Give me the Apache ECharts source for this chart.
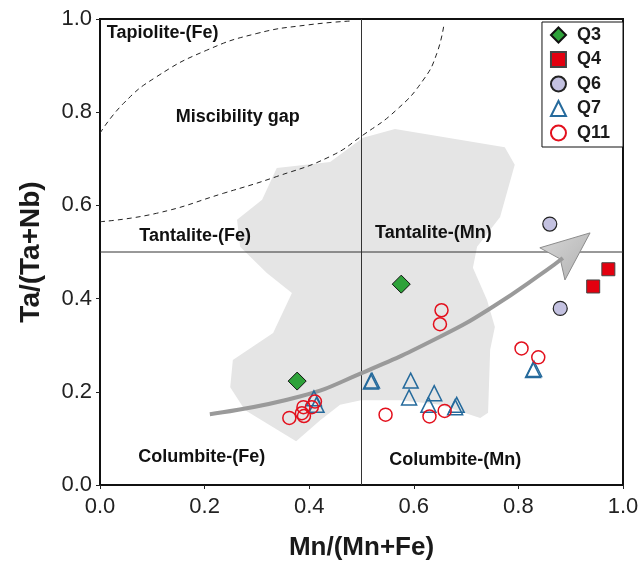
<!DOCTYPE html>
<html>
<head>
<meta charset="utf-8">
<script src="https://cdn.jsdelivr.net/npm/echarts@6/dist/echarts.min.js"></script>
<style>
  html, body { margin: 0; padding: 0; background: #fff; }
  #main { width: 644px; height: 562px; }
</style>
</head>
<body>
<div id="main"></div>
<script>
// sample points, [Mn/(Mn+Fe), Ta/(Ta+Nb)]
var q3 = [[0.377, 0.223], [0.576, 0.431]];
var q4 = [[0.972, 0.463], [0.943, 0.426]];
var q6 = [[0.860, 0.560], [0.880, 0.379]];
var q7 = [
  [0.518, 0.222], [0.520, 0.224], [0.594, 0.224], [0.591, 0.188], [0.639, 0.197],
  [0.628, 0.172], [0.682, 0.172], [0.679, 0.167], [0.409, 0.186], [0.414, 0.172],
  [0.828, 0.247], [0.830, 0.249]
];
var q11 = [
  [0.653, 0.375], [0.650, 0.345], [0.806, 0.293], [0.838, 0.274], [0.546, 0.151],
  [0.630, 0.147], [0.659, 0.159], [0.362, 0.144], [0.386, 0.154], [0.390, 0.148],
  [0.389, 0.167], [0.405, 0.167], [0.411, 0.179]
];

// grey field outline
var field = [
  [0.375, 0.094], [0.421, 0.139], [0.459, 0.172], [0.499, 0.182], [0.574, 0.182],
  [0.650, 0.172], [0.727, 0.144], [0.742, 0.155], [0.746, 0.290], [0.755, 0.339],
  [0.740, 0.397], [0.713, 0.466], [0.721, 0.511], [0.765, 0.575], [0.793, 0.687],
  [0.774, 0.725], [0.564, 0.764], [0.503, 0.745], [0.440, 0.693], [0.338, 0.680],
  [0.310, 0.612], [0.262, 0.569], [0.268, 0.511], [0.319, 0.455], [0.367, 0.412],
  [0.331, 0.326], [0.254, 0.268], [0.249, 0.210], [0.277, 0.161]
];

// miscibility gap (dashed)
var gapLower = [
  [0, 0.565], [0.108, 0.583], [0.236, 0.626], [0.338, 0.662], [0.440, 0.705],
  [0.503, 0.751], [0.567, 0.805], [0.618, 0.869], [0.644, 0.926], [0.658, 0.991]
];
var gapUpper = [
  [0, 0.755], [0.045, 0.819], [0.108, 0.876], [0.204, 0.933], [0.300, 0.969],
  [0.395, 0.987], [0.484, 0.996]
];

// trend arrow
var arrowShaft = [
  [0.210, 0.152], [0.382, 0.190], [0.500, 0.240], [0.650, 0.318], [0.752, 0.383],
  [0.854, 0.461], [0.885, 0.487]
];
var arrowHead = [[0.937, 0.541], [0.841, 0.509], [0.880, 0.485], [0.889, 0.440]];

var vLine = [[0.5, 0], [0.5, 1]];
var hLine = [[0, 0.5], [1, 0.5]];

var fieldNames = [
  {name: 'Tapiolite-(Fe)', value: [0.013, 0.970]},
  {name: 'Miscibility gap', value: [0.145, 0.790]},
  {name: 'Tantalite-(Fe)', value: [0.075, 0.534]},
  {name: 'Tantalite-(Mn)', value: [0.526, 0.541]},
  {name: 'Columbite-(Fe)', value: [0.073, 0.060]},
  {name: 'Columbite-(Mn)', value: [0.553, 0.054]}
];

var myChart = echarts.init(document.getElementById('main'));

function polygonItem(points, style) {
  return function (params, api) {
    var pts = points.map(function (p) { return api.coord(p); });
    return {type: 'polygon', shape: {points: pts}, style: style};
  };
}

var font = 'Liberation Sans, Arial, sans-serif';

var option = {
  animation: false,
  backgroundColor: '#fff',
  textStyle: {fontFamily: font},
  grid: {
    left: 100, right: 21, top: 19, bottom: 77,
    outerBoundsMode: 'none',
    show: true, borderColor: '#111', borderWidth: 2
  },
  legend: {
    orient: 'vertical',
    right: 21,
    top: 22,
    data: ['Q3', 'Q4', 'Q6', 'Q7', 'Q11'],
    itemWidth: 15,
    itemHeight: 15,
    itemGap: 6.5,
    padding: [4, 13, 5, 8],
    borderColor: '#111',
    borderWidth: 1,
    backgroundColor: '#fff',
    textStyle: {
      fontFamily: font, fontSize: 18, fontWeight: 'bold', color: '#1a1a1a',
      padding: [0, 0, 0, 6]
    }
  },
  xAxis: {
    type: 'value', min: 0, max: 1, interval: 0.2,
    name: 'Mn/(Mn+Fe)', nameLocation: 'middle', nameGap: 50,
    nameTextStyle: {fontFamily: font, fontSize: 26, fontWeight: 'bold', color: '#1a1a1a'},
    axisLine: {lineStyle: {color: '#111', width: 2}},
    axisTick: {length: 4, lineStyle: {color: '#222'}},
    axisLabel: {
      fontSize: 22, color: '#222', margin: 11, fontFamily: font,
      formatter: function (v) { return v.toFixed(1); }
    },
    splitLine: {show: false}
  },
  yAxis: {
    type: 'value', min: 0, max: 1, interval: 0.2,
    name: 'Ta/(Ta+Nb)', nameLocation: 'middle', nameGap: 55,
    nameTextStyle: {fontFamily: font, fontSize: 28, fontWeight: 'bold', color: '#1a1a1a'},
    axisLine: {lineStyle: {color: '#111', width: 2}},
    axisTick: {length: 4, lineStyle: {color: '#222'}},
    axisLabel: {
      fontSize: 22, color: '#222', margin: 8, fontFamily: font,
      formatter: function (v) { return v.toFixed(1); }
    },
    splitLine: {show: false}
  },
  series: [
    {
      name: 'field', type: 'custom', z: 1, silent: true,
      data: [[0.5, 0.5]],
      renderItem: polygonItem(field, {fill: '#e5e5e5'})
    },
    {
      name: 'v', type: 'line', z: 2, data: vLine, showSymbol: false, silent: true,
      lineStyle: {color: '#333', width: 1}
    },
    {
      name: 'h', type: 'line', z: 2, data: hLine, showSymbol: false, silent: true,
      lineStyle: {color: '#333', width: 1}
    },
    {
      name: 'gapLower', type: 'line', z: 2, data: gapLower, smooth: true, showSymbol: false,
      lineStyle: {color: '#222', width: 1, type: [5, 4]}
    },
    {
      name: 'gapUpper', type: 'line', z: 2, data: gapUpper, smooth: true, showSymbol: false,
      lineStyle: {color: '#222', width: 1, type: [5, 4]}
    },
    {
      name: 'arrow', type: 'line', z: 3, data: arrowShaft, smooth: true, showSymbol: false,
      lineStyle: {color: '#9a9a9a', width: 4}
    },
    {
      name: 'arrowHead', type: 'custom', z: 3, silent: true,
      data: [[0.9, 0.5]],
      renderItem: polygonItem(arrowHead, {
        fill: new echarts.graphic.LinearGradient(0, 0, 1, 1, [
          {offset: 0, color: '#d8d8d8'}, {offset: 1, color: '#b0b0b0'}
        ]),
        stroke: '#8c8c8c', lineWidth: 1
      })
    },
    {
      name: 'Q7', type: 'scatter', z: 5, data: q7, symbol: 'triangle', symbolSize: 15,
      itemStyle: {color: 'rgba(0,0,0,0)', borderColor: '#256a9c', borderWidth: 1.5, opacity: 1}
    },
    {
      name: 'Q11', type: 'scatter', z: 5, data: q11, symbol: 'circle', symbolSize: 13,
      itemStyle: {color: 'rgba(0,0,0,0)', borderColor: '#e3101d', borderWidth: 1.5, opacity: 1}
    },
    {
      name: 'Q3', type: 'scatter', z: 6, data: q3, symbol: 'diamond', symbolSize: [18, 18],
      itemStyle: {color: '#2ea23a', borderColor: '#111', borderWidth: 1, opacity: 1}
    },
    {
      name: 'Q4', type: 'scatter', z: 6, data: q4, symbol: 'rect', symbolSize: 13,
      itemStyle: {color: '#e3000f', borderColor: '#444', borderWidth: 1, opacity: 1}
    },
    {
      name: 'Q6', type: 'scatter', z: 6, data: q6, symbol: 'circle', symbolSize: 14,
      itemStyle: {color: '#c3c1e0', borderColor: '#222', borderWidth: 1.2, opacity: 1}
    },
    {
      name: 'labels', type: 'scatter', z: 7, data: fieldNames, symbolSize: 0, silent: true,
      itemStyle: {opacity: 1},
      label: {
        show: true, position: 'right', distance: 0,
        formatter: '{b}',
        fontFamily: font, fontSize: 18, fontWeight: 'bold', color: '#111'
      }
    }
  ]
};

myChart.setOption(option);
</script>
</body>
</html>
